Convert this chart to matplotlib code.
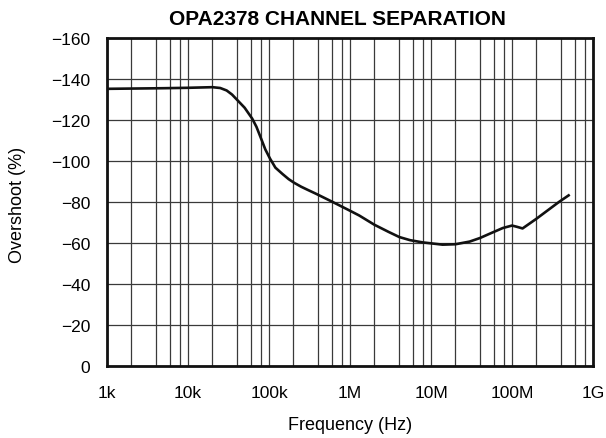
import matplotlib
matplotlib.use("Agg")
import matplotlib.pyplot as plt
from matplotlib.ticker import FixedLocator, NullFormatter

plt.rcParams['font.family'] = ['Liberation Sans', 'DejaVu Sans']

# values
freq = [1e3, 5e3, 1e4, 2e4, 2.5e4, 3e4, 3.5e4, 4e4, 5e4, 6.2e4, 7e4, 8e4, 9e4,
        1.03e5, 1.2e5, 1.47e5, 1.75e5, 2.05e5, 2.5e5, 3e5, 3.8e5, 6.1e5, 9.8e5,
        1.3e6, 2e6, 3e6, 4.07e6, 5.5e6, 7.9e6, 1.39e7, 2e7, 3e7, 4e7, 5.5e7,
        7.7e7, 1e8, 1.15e8, 1.35e8, 2e8, 3.8e8, 5e8]
sep = [-135.0, -135.3, -135.5, -135.8, -135.4, -134.2, -132.2, -129.8, -125.8,
       -120.5, -116.5, -110.7, -105.5, -101.0, -96.6, -93.5, -91.0, -89.2,
       -87.3, -85.8, -83.9, -79.9, -75.8, -73.3, -68.8, -65.3, -62.8, -61.3,
       -60.2, -59.1, -59.3, -60.6, -62.3, -64.7, -67.2, -68.4, -67.8, -67.0,
       -71.7, -79.9, -83.1]

xticks = [1e3, 1e4, 1e5, 1e6, 1e7, 1e8, 1e9]
xlabels = ['1k', '10k', '100k', '1M', '10M', '100M', '1G']
yticks = [0, -20, -40, -60, -80, -100, -120, -140, -160]

fig = plt.figure(figsize=(6.06, 4.39), dpi=100)
ax = fig.add_axes([107 / 606, 72 / 439, 486 / 606, 328.5 / 439])

ax.plot(freq, sep, color='#111111', lw=1.9, zorder=3)

ax.set_xscale('log')
ax.set_xlim(1e3, 1e9)
ax.set_ylim(0, -160)

ax.set_xticks(xticks)
ax.set_xticklabels(xlabels)
minors = [m * 10**d for d in range(3, 9) for m in (2, 4, 6, 8)]
ax.xaxis.set_minor_locator(FixedLocator(minors))
ax.xaxis.set_minor_formatter(NullFormatter())
ax.set_yticks(yticks)
ax.set_yticklabels(['0' if v == 0 else '\u2212%d' % abs(v) for v in yticks])

ax.grid(True, which='major', color='#3a3a3a', lw=0.9)
ax.grid(True, which='minor', axis='x', color='#3a3a3a', lw=0.9)
ax.tick_params(which='both', length=0, labelsize=12.5)
ax.tick_params(axis='x', pad=14)
ax.tick_params(axis='y', pad=12)

for s in ax.spines.values():
    s.set_linewidth(2)
    s.set_color('#111111')

fig.text(350 / 606, 1 - 430 / 439, 'Frequency (Hz)', fontsize=13,
         ha='center', va='baseline')
fig.text(18 / 606, 1 - 205 / 439, 'Overshoot (%)', fontsize=13,
         rotation=90, ha='center', va='center')
fig.text(337 / 606, 1 - 25 / 439, 'OPA2378 CHANNEL SEPARATION', fontsize=15,
         fontweight='bold', ha='center', va='baseline')

fig.savefig('out.png', dpi=100)
